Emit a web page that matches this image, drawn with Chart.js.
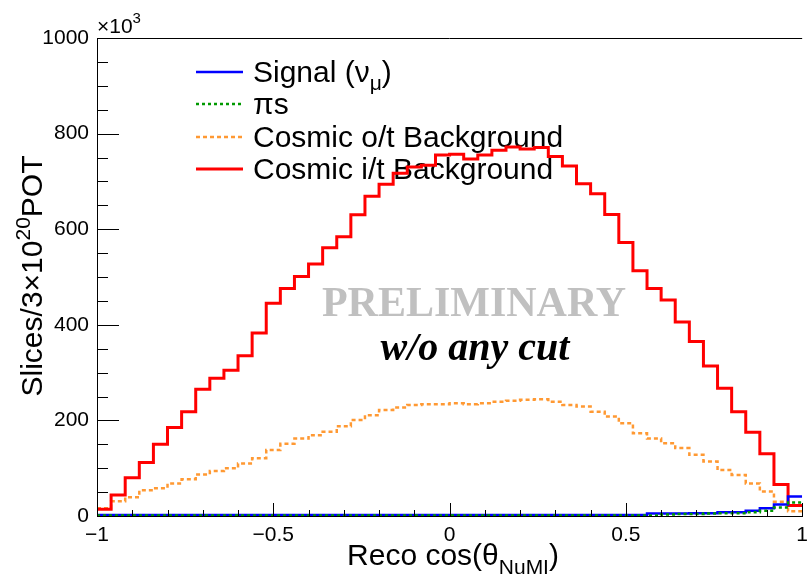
<!DOCTYPE html>
<html>
<head>
<meta charset="utf-8">
<script src="https://cdn.jsdelivr.net/npm/chart.js@4.4.1/dist/chart.umd.min.js"></script>
<style>
  html, body { margin: 0; padding: 0; background: #fff; overflow: hidden; }
  #wrap { width: 808px; height: 574px; overflow: hidden; }
</style>
</head>
<body>
<div id="wrap"><canvas id="grafico" width="815" height="574"></canvas></div>
<script>
// 50 bins in reco cos(theta_NuMI), from -1 to 1 (values in units of 10^3 slices)
const binLow = -1;
const binWidth = 0.04;

const cosmicIn = [
  14, 44, 80, 112, 150, 185, 218, 265, 288, 305,
  335, 383, 445, 476, 501, 527, 561, 584, 630, 669,
  694, 717, 730, 734, 755, 757, 747, 755, 765, 772,
  768, 771, 752, 732, 695, 674, 631, 572, 513, 476,
  452, 406, 365, 314, 267, 218, 175, 130, 66, 22
];
const cosmicOut = [
  16, 31, 39, 54, 58, 68, 77, 87, 94, 100,
  110, 121, 138, 151, 162, 169, 176, 188, 201, 211,
  222, 227, 232, 234, 234, 236, 234, 236, 239, 241,
  243, 244, 239, 232, 229, 218, 208, 194, 173, 162,
  152, 142, 128, 114, 96, 86, 68, 51, 30, 10
];
const signalNumu = [
  2, 2, 2, 2, 2, 2, 2, 2, 2, 2,
  2, 2, 2, 2, 2, 2, 2, 2, 2, 2,
  2, 2, 2, 2, 2, 2, 2, 2, 2, 2,
  2, 2, 2, 2, 2, 2, 2, 2, 2, 5,
  5, 5, 6, 6, 8, 8, 11, 16, 24, 41
];
const pions = [
  1, 1, 1, 1, 1, 1, 1, 1, 1, 1,
  1, 1, 1, 1, 1, 1, 1, 1, 1, 1,
  1, 1, 1, 1, 1, 1, 1, 1, 1, 1,
  1, 1, 1, 1, 1, 1, 1, 1, 1, 1,
  3, 4, 4, 5, 6, 6, 8, 11, 18, 28
];

const yTickStep = 200;
const xTickStep = 0.5;

// legend entries: [texto, tamanho, deslocamento vertical]
const legendSignal = [['Signal (\u03bd', 30, 0], ['\u03bc', 21, 8], [')', 30, 0]];
const legendPions = [['\u03c0s', 30, 0]];
const legendCosOut = [['Cosmic o/t Background', 30, 0]];
const legendCosIn = [['Cosmic i/t Background', 30, 0]];

const SANS = '"Liberation Sans", Arial, sans-serif';
const SERIF = '"Liberation Serif", "Times New Roman", serif';

function histograma(valores) {
  const pts = valores.map((v, k) => ({ x: binLow + k * binWidth, y: v }));
  pts.push({ x: binLow + valores.length * binWidth, y: valores[valores.length - 1] });
  return pts;
}

function textoRico(ctx, partes, x, y, align) {
  let largura = 0;
  partes.forEach(([t, s]) => {
    ctx.font = s + 'px ' + SANS;
    largura += ctx.measureText(t).width;
  });
  let cx = align === 'center' ? x - largura / 2 : x;
  ctx.textAlign = 'left';
  ctx.textBaseline = 'alphabetic';
  partes.forEach(([t, s, dy]) => {
    ctx.font = s + 'px ' + SANS;
    ctx.fillText(t, cx, y + dy);
    cx += ctx.measureText(t).width;
  });
}

const estilos = {
  signal: { color: '#0000ff', width: 2.5, dash: [] },
  pions: { color: '#009900', width: 2.5, dash: [3, 3] },
  cosOut: { color: '#ff9933', width: 2.5, dash: [4, 3] },
  cosIn: { color: '#ff0000', width: 3, dash: [] }
};

const legendaItens = [
  { partes: legendSignal, est: estilos.signal, y: 72 },
  { partes: legendPions, est: estilos.pions, y: 104 },
  { partes: legendCosOut, est: estilos.cosOut, y: 137 },
  { partes: legendCosIn, est: estilos.cosIn, y: 169 }
];

const decoracao = {
  id: 'decoracao',
  beforeDatasetsDraw(chart) {
    const ctx = chart.ctx;
    ctx.save();
    legendaItens.forEach(item => {
      ctx.strokeStyle = item.est.color;
      ctx.lineWidth = item.est.width;
      ctx.setLineDash(item.est.dash);
      ctx.beginPath();
      ctx.moveTo(196, item.y);
      ctx.lineTo(243, item.y);
      ctx.stroke();
      ctx.setLineDash([]);
      ctx.fillStyle = '#000';
      textoRico(ctx, item.partes, 253, item.y + 9.5, 'left');
    });
    ctx.restore();
  },
  afterDatasetsDraw(chart) {
    const ctx = chart.ctx;
    const area = chart.chartArea;
    const xs = chart.scales.x, ys = chart.scales.y;
    ctx.save();
    ctx.strokeStyle = '#000';
    ctx.lineWidth = 1;
    ctx.beginPath();
    // top of the frame
    ctx.moveTo(area.left, area.top + 0.5);
    ctx.lineTo(area.right, area.top + 0.5);
    // ticks inside the frame
    for (let v = 0; v <= 1000; v += 50) {
      const py = Math.round(ys.getPixelForValue(v)) + 0.5;
      const len = v % yTickStep === 0 ? 22 : 11;
      ctx.moveTo(area.left, py);
      ctx.lineTo(area.left + len, py);
    }
    for (let i = -10; i <= 10; i++) {
      const px = Math.round(xs.getPixelForValue(i / 10)) + 0.5;
      const len = i % 5 === 0 ? 13 : 6;
      ctx.moveTo(px, area.bottom);
      ctx.lineTo(px, area.bottom - len);
    }
    ctx.stroke();

    ctx.fillStyle = '#000';
    textoRico(ctx, [['\u00d710', 21, 0], ['3', 15, -10]], area.left, 33, 'left');
    textoRico(ctx, [['Reco cos(\u03b8', 30, 0], ['NuMI', 21, 9], [')', 30, 0]], 453, 565, 'center');

    ctx.save();
    ctx.translate(42, 276);
    ctx.rotate(-Math.PI / 2);
    textoRico(ctx, [['Slices/3\u00d710', 30, 0], ['20', 21, -12], ['POT', 30, 0]], 0, 0, 'center');
    ctx.restore();

    ctx.textAlign = 'center';
    ctx.textBaseline = 'alphabetic';
    ctx.fillStyle = '#c0c0c0';
    ctx.font = 'bold 42px ' + SERIF;
    ctx.fillText('PRELIMINARY', 474, 316);
    ctx.fillStyle = '#000';
    ctx.font = 'italic bold 40px ' + SERIF;
    ctx.fillText('w/o any cut', 475, 360);
    ctx.restore();
  }
};

function serie(label, valores, est) {
  return {
    label: label,
    data: histograma(valores),
    borderColor: est.color,
    borderWidth: est.width,
    borderDash: est.dash,
    borderJoinStyle: 'miter',
    stepped: true,
    pointRadius: 0,
    fill: false
  };
}

const minus = v => String(v).replace('-', '\u2212');

new Chart(document.getElementById('grafico').getContext('2d'), {
  type: 'line',
  data: {
    datasets: [
      serie('\u03c0s', pions, estilos.pions),
      serie('Signal (\u03bd\u03bc)', signalNumu, estilos.signal),
      serie('Cosmic i/t Background', cosmicIn, estilos.cosIn),
      serie('Cosmic o/t Background', cosmicOut, estilos.cosOut)
    ]
  },
  options: {
    responsive: false,
    animation: false,
    layout: { padding: { top: 38, right: 4, left: 0, bottom: 0 } },
    plugins: {
      legend: { display: false },
      tooltip: { enabled: false }
    },
    scales: {
      x: {
        type: 'linear',
        min: -1,
        max: 1,
        afterFit: s => { s.height = 58; },
        grid: { display: false, drawTicks: false },
        border: { display: true, color: '#000', width: 1 },
        ticks: {
          stepSize: xTickStep,
          autoSkip: false,
          maxRotation: 0,
          padding: 7,
          color: '#000',
          font: { family: SANS, size: 21 },
          callback: minus
        }
      },
      y: {
        min: 0,
        max: 1000,
        afterFit: s => { s.width = 97; },
        grid: { display: false, drawTicks: false },
        border: { display: true, color: '#000', width: 1 },
        ticks: {
          stepSize: yTickStep,
          padding: 8,
          color: '#000',
          font: { family: SANS, size: 21 },
          callback: minus
        }
      }
    }
  },
  plugins: [decoracao]
});
</script>
</body>
</html>
